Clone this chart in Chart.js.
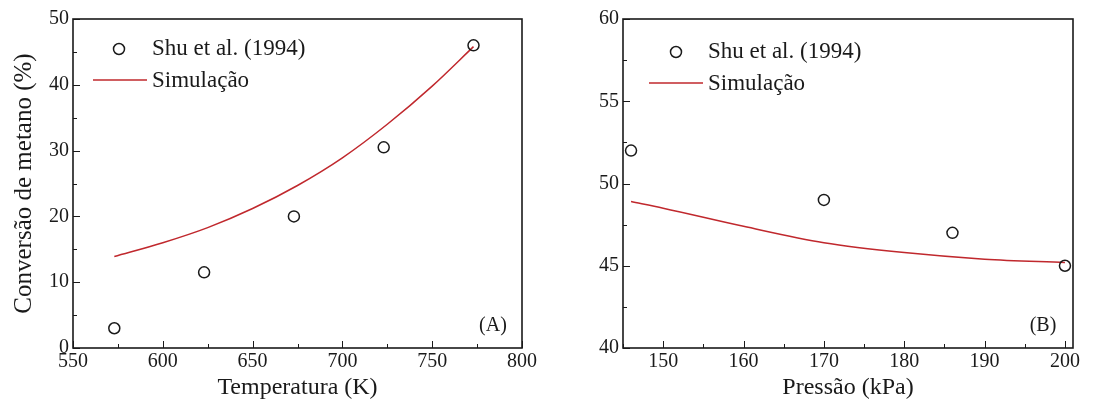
<!DOCTYPE html>
<html>
<head>
<meta charset="utf-8">
<script src="https://cdn.jsdelivr.net/npm/chart.js@4.4.1/dist/chart.umd.min.js"></script>
<style>
  html, body { margin: 0; padding: 0; background: #fff; }
  .wrap { position: absolute; top: 0; width: 560px; height: 412px; }
  #boxA { left: 0; }
  #boxB { left: 560px; }
</style>
</head>
<body>
<div class="wrap" id="boxA"><canvas id="chartA"></canvas></div>
<div class="wrap" id="boxB"><canvas id="chartB"></canvas></div>
<script>
// Painel A - conversão vs temperatura
const expTempA = [573, 623, 673, 723, 773];
const expConvA = [3, 11.5, 20, 30.5, 46];
const simTempA = [573, 600, 625, 650, 675, 700, 725, 750, 773];
const simConvA = [13.9, 16.0, 18.3, 21.2, 24.7, 28.9, 34.0, 39.8, 45.8];

// Painel B - conversão vs pressão
const expPresB = [146, 170, 186, 200];
const expConvB = [52, 49, 47, 45];
const simPresB = [146, 150, 160, 170, 180, 190, 200];
const simConvB = [48.9, 48.5, 47.4, 46.4, 45.8, 45.4, 45.2];

const labelExp = 'Shu et al. (1994)';
const labelSim = 'Simulação';

const SERIF = "'Liberation Serif', 'DejaVu Serif', serif";
const INK = '#1a1a1a';
const RED = '#c0282d';

const toPts = (xs, ys) => xs.map((x, i) => ({ x: x, y: ys[i] }));

// ticks do passo, sem o extremo que o Chart.js acrescenta
function stepTicks(min, max, step) {
    const out = [];
    for (let v = Math.ceil(min / step) * step; v <= max + 1e-9; v += step) {
        out.push({ value: Math.round(v * 1000) / 1000 });
    }
    return out;
}

// ticks para dentro + moldura + legenda interna
const framePlugin = {
    id: 'frame',
    afterDraw(chart, args, opts) {
        const { ctx, chartArea: a, scales } = chart;
        ctx.save();
        ctx.strokeStyle = INK;
        ctx.lineWidth = 1;
        scales.x.ticks.forEach(t => {
            const px = Math.round(scales.x.getPixelForValue(t.value)) + 0.5;
            const len = t.label !== '' ? 7 : 4;
            ctx.beginPath();
            ctx.moveTo(px, a.bottom);
            ctx.lineTo(px, a.bottom - len);
            ctx.stroke();
        });
        scales.y.ticks.forEach(t => {
            const py = Math.round(scales.y.getPixelForValue(t.value)) + 0.5;
            const len = t.label !== '' ? 7 : 4;
            ctx.beginPath();
            ctx.moveTo(a.left, py);
            ctx.lineTo(a.left + len, py);
            ctx.stroke();
        });
        // moldura
        ctx.lineWidth = 1.6;
        ctx.strokeRect(a.left, a.top, a.right - a.left, a.bottom - a.top);

        // legenda
        const lx = a.left + opts.dx;
        const y1 = a.top + opts.dy1;
        const y2 = a.top + opts.dy2;
        ctx.font = '23px ' + SERIF;
        ctx.fillStyle = INK;
        ctx.textBaseline = 'middle';
        ctx.lineWidth = 1.5;
        ctx.beginPath();
        ctx.arc(lx + opts.mk, y1, 5.5, 0, Math.PI * 2);
        ctx.stroke();
        ctx.fillText(chart.data.datasets[0].label, lx + opts.tx, y1);
        ctx.strokeStyle = RED;
        ctx.beginPath();
        ctx.moveTo(lx, y2);
        ctx.lineTo(lx + opts.tx - 5, y2);
        ctx.stroke();
        ctx.fillText(chart.data.datasets[1].label, lx + opts.tx, y2 + 1);

        // rótulo do painel
        ctx.font = '20px ' + SERIF;
        ctx.textAlign = 'center';
        ctx.fillText(opts.tag, a.right - opts.tagDx, a.bottom - 22);
        ctx.restore();
    }
};

function makeChart(id, cfg) {
    return new Chart(document.getElementById(id), {
        type: 'scatter',
        data: {
            datasets: [{
                label: labelExp,
                data: toPts(cfg.ex, cfg.ey),
                showLine: false,
                pointStyle: 'circle',
                pointRadius: 5.5,
                pointBorderWidth: 1.5,
                pointBorderColor: INK,
                pointBackgroundColor: 'rgba(0,0,0,0)'
            }, {
                label: labelSim,
                data: toPts(cfg.sx, cfg.sy),
                showLine: true,
                borderColor: RED,
                borderWidth: 1.5,
                pointRadius: 0,
                cubicInterpolationMode: 'monotone'
            }]
        },
        options: {
            responsive: true,
            maintainAspectRatio: false,
            animation: false,
            layout: { padding: { left: 0, top: 19, right: cfg.padRight, bottom: 0 } },
            plugins: {
                legend: { display: false },
                tooltip: { enabled: false },
                frame: cfg.legend
            },
            scales: {
                x: {
                    type: 'linear',
                    min: cfg.xMin,
                    max: cfg.xMax,
                    grid: { display: false, drawTicks: false },
                    border: { display: false },
                    afterBuildTicks: s => { s.ticks = stepTicks(cfg.xMin, cfg.xMax, cfg.xStep); },
                    afterFit: s => { s.height = 64; },
                    ticks: {
                        autoSkip: false,
                        maxRotation: 0,
                        padding: 2,
                        color: INK,
                        font: { family: SERIF, size: 20 },
                        callback: v => (v % cfg.xMajor === 0 ? String(v) : '')
                    },
                    title: {
                        display: true,
                        text: cfg.xTitle,
                        color: INK,
                        font: { family: SERIF, size: 24 },
                        padding: { top: 0, bottom: 10 }
                    }
                },
                y: {
                    type: 'linear',
                    min: cfg.yMin,
                    max: cfg.yMax,
                    grid: { display: false, drawTicks: false },
                    border: { display: false },
                    afterBuildTicks: s => { s.ticks = stepTicks(cfg.yMin, cfg.yMax, cfg.yStep); },
                    afterFit: s => { s.width = cfg.yWidth; },
                    ticks: {
                        autoSkip: false,
                        padding: 4,
                        color: INK,
                        font: { family: SERIF, size: 20 },
                        callback: v => (v % cfg.yMajor === 0 ? String(v) : '')
                    },
                    title: {
                        display: !!cfg.yTitle,
                        text: cfg.yTitle || '',
                        color: INK,
                        font: { family: SERIF, size: 25 },
                        padding: { top: 9, bottom: 0 }
                    }
                }
            }
        },
        plugins: [framePlugin]
    });
}

makeChart('chartA', {
    ex: expTempA, ey: expConvA, sx: simTempA, sy: simConvA,
    xMin: 550, xMax: 800, xStep: 25, xMajor: 50,
    yMin: 0, yMax: 50, yStep: 5, yMajor: 10,
    xTitle: 'Temperatura (K)',
    yTitle: 'Conversão de metano (%)',
    yWidth: 73, padRight: 38,
    legend: { dx: 20, dy1: 30, dy2: 61, mk: 26, tx: 59, tag: '(A)', tagDx: 29 }
});

makeChart('chartB', {
    ex: expPresB, ey: expConvB, sx: simPresB, sy: simConvB,
    xMin: 145, xMax: 201, xStep: 5, xMajor: 10,
    yMin: 40, yMax: 60, yStep: 2.5, yMajor: 5,
    xTitle: 'Pressão (kPa)',
    yTitle: '',
    yWidth: 63, padRight: 47,
    legend: { dx: 26, dy1: 33, dy2: 64, mk: 27, tx: 59, tag: '(B)', tagDx: 30 }
});
</script>
</body>
</html>
